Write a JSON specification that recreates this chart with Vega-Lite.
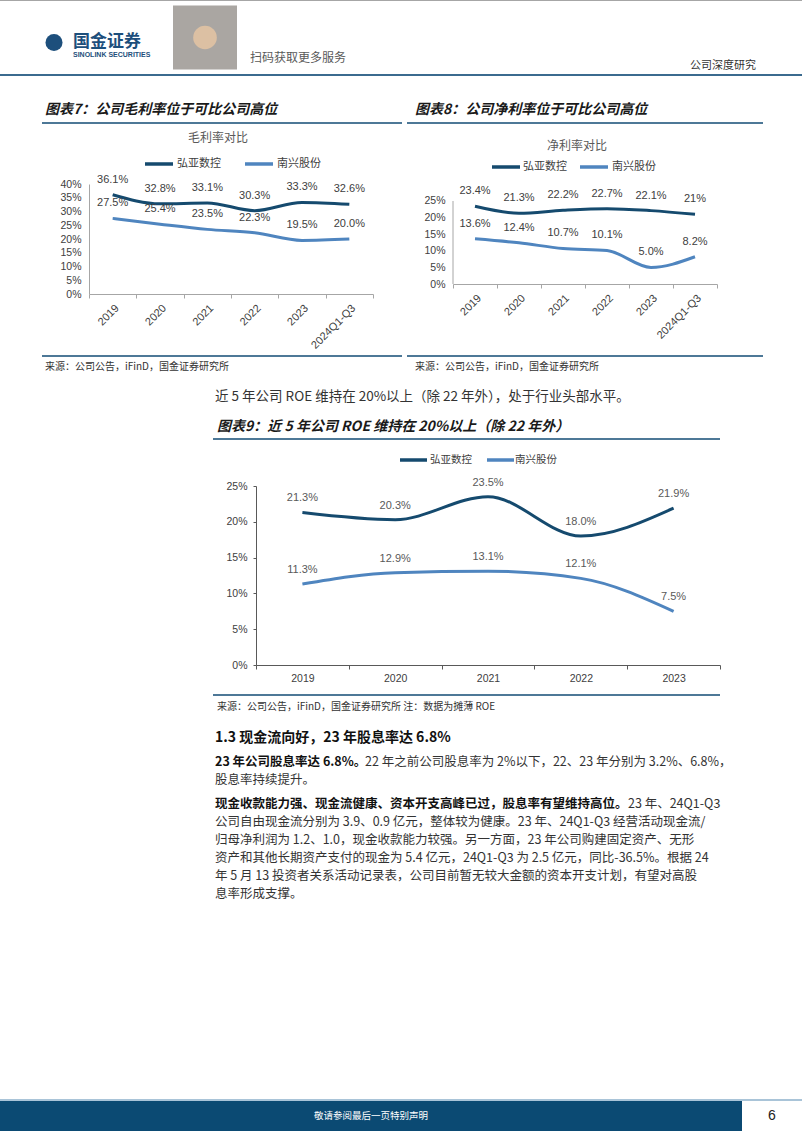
{
"$schema":"https://vega.github.io/schema/vega-lite/v6.json",
"background":"#ffffff",
"padding":0,
"spacing":0,
"config":{"view":{"stroke":null},"concat":{"spacing":0},"font":"Noto Sans CJK SC"},
"datasets":{
"gm":[
{"yr":"2019","co":"弘亚数控","v":36.1,"lab":"36.1%"},
{"yr":"2020","co":"弘亚数控","v":32.8,"lab":"32.8%"},
{"yr":"2021","co":"弘亚数控","v":33.1,"lab":"33.1%"},
{"yr":"2022","co":"弘亚数控","v":30.3,"lab":"30.3%"},
{"yr":"2023","co":"弘亚数控","v":33.3,"lab":"33.3%"},
{"yr":"2024Q1-Q3","co":"弘亚数控","v":32.6,"lab":"32.6%"},
{"yr":"2019","co":"南兴股份","v":27.5,"lab":"27.5%"},
{"yr":"2020","co":"南兴股份","v":25.4,"lab":"25.4%"},
{"yr":"2021","co":"南兴股份","v":23.5,"lab":"23.5%"},
{"yr":"2022","co":"南兴股份","v":22.3,"lab":"22.3%"},
{"yr":"2023","co":"南兴股份","v":19.5,"lab":"19.5%"},
{"yr":"2024Q1-Q3","co":"南兴股份","v":20.0,"lab":"20.0%"}
],
"nm":[
{"yr":"2019","co":"弘亚数控","v":23.4,"lab":"23.4%"},
{"yr":"2020","co":"弘亚数控","v":21.3,"lab":"21.3%"},
{"yr":"2021","co":"弘亚数控","v":22.2,"lab":"22.2%"},
{"yr":"2022","co":"弘亚数控","v":22.7,"lab":"22.7%"},
{"yr":"2023","co":"弘亚数控","v":22.1,"lab":"22.1%"},
{"yr":"2024Q1-Q3","co":"弘亚数控","v":21.0,"lab":"21%"},
{"yr":"2019","co":"南兴股份","v":13.6,"lab":"13.6%"},
{"yr":"2020","co":"南兴股份","v":12.4,"lab":"12.4%"},
{"yr":"2021","co":"南兴股份","v":10.7,"lab":"10.7%"},
{"yr":"2022","co":"南兴股份","v":10.1,"lab":"10.1%"},
{"yr":"2023","co":"南兴股份","v":5.0,"lab":"5.0%"},
{"yr":"2024Q1-Q3","co":"南兴股份","v":8.2,"lab":"8.2%"}
],
"roe":[
{"yr":"2019","co":"弘亚数控","v":21.3,"lab":"21.3%"},
{"yr":"2020","co":"弘亚数控","v":20.3,"lab":"20.3%"},
{"yr":"2021","co":"弘亚数控","v":23.5,"lab":"23.5%"},
{"yr":"2022","co":"弘亚数控","v":18.0,"lab":"18.0%"},
{"yr":"2023","co":"弘亚数控","v":21.9,"lab":"21.9%"},
{"yr":"2019","co":"南兴股份","v":11.3,"lab":"11.3%"},
{"yr":"2020","co":"南兴股份","v":12.9,"lab":"12.9%"},
{"yr":"2021","co":"南兴股份","v":13.1,"lab":"13.1%"},
{"yr":"2022","co":"南兴股份","v":12.1,"lab":"12.1%"},
{"yr":"2023","co":"南兴股份","v":7.5,"lab":"7.5%"}
]
},
"vconcat":[
{"width":802,"height":1,"view":{"fill":"#a6a6a6","stroke":null},"data":{"values":[]},"mark":"point"},
{"hconcat":[
 {"width":45,"height":1,"data":{"values":[]},"mark":"point"},
 {"width":18,"height":73,"data":{"values":[{"k":"a"}]},"mark":{"type":"point","shape":"circle","filled":true,"size":290,"color":"#1d4f7c","opacity":1},"encoding":{"y":{"field":"k","type":"nominal","scale":{"type":"band","paddingInner":0,"paddingOuter":0},"axis":null,"bandPosition":0.568}}},
 {"width":10,"height":1,"data":{"values":[]},"mark":"point"},
 {"width":90,"height":73,"data":{"values":[{"k":"a","t1":"国金证券","t2":"SINOLINK SECURITIES"}]},"encoding":{"x":{"datum":0,"type":"quantitative","scale":{"domain":[0,1]},"axis":null}},"layer":[
  {"mark":{"type":"text","align":"left","baseline":"middle","fontSize":17,"fontWeight":"bold","color":"#1d4f7c"},"encoding":{"y":{"field":"k","type":"nominal","scale":{"type":"band","paddingInner":0,"paddingOuter":0},"axis":null,"bandPosition":0.555},"text":{"field":"t1"}}},
  {"mark":{"type":"text","align":"left","baseline":"middle","fontSize":7,"fontWeight":"bold","color":"#1d4f7c","font":"Liberation Sans"},"encoding":{"y":{"field":"k","type":"nominal","scale":{"type":"band","paddingInner":0,"paddingOuter":0},"axis":null,"bandPosition":0.733},"text":{"field":"t2"}}}
 ]},
 {"width":10,"height":1,"data":{"values":[]},"mark":"point"},
 {"width":64,"height":73,"data":{"values":[{"k":"a"}]},"encoding":{"y":{"field":"k","type":"nominal","scale":{"type":"band","paddingInner":0,"paddingOuter":0},"axis":null,"bandPosition":0.5}},"layer":[
  {"mark":{"type":"point","shape":"square","filled":true,"size":4096,"color":"#aaa6a2","opacity":1}},
  {"mark":{"type":"point","shape":"circle","filled":true,"size":560,"color":"#dcc0a3","opacity":1}}
 ]},
 {"width":13,"height":1,"data":{"values":[]},"mark":"point"},
 {"width":110,"height":73,"data":{"values":[{"k":"a","t":"扫码获取更多服务"}]},"mark":{"type":"text","align":"left","baseline":"middle","fontSize":12,"color":"#595959"},"encoding":{"x":{"datum":0,"type":"quantitative","scale":{"domain":[0,1]},"axis":null},"y":{"field":"k","type":"nominal","scale":{"type":"band","paddingInner":0,"paddingOuter":0},"axis":null,"bandPosition":0.781},"text":{"field":"t"}}},
 {"width":330,"height":1,"data":{"values":[]},"mark":"point"},
 {"width":112,"height":73,"data":{"values":[{"k":"a","t":"公司深度研究"}]},"mark":{"type":"text","align":"left","baseline":"middle","fontSize":11,"color":"#333333"},"encoding":{"x":{"datum":0,"type":"quantitative","scale":{"domain":[0,1]},"axis":null},"y":{"field":"k","type":"nominal","scale":{"type":"band","paddingInner":0,"paddingOuter":0},"axis":null,"bandPosition":0.89},"text":{"field":"t"}}}
],"spacing":0,"bounds":"flush"},
{"width":802,"height":2,"view":{"fill":"#3b6b8f","stroke":null},"data":{"values":[]},"mark":"point"},
{"width":1,"height":24,"data":{"values":[]},"mark":"point"},
{"hconcat":[
 {"width":45,"height":1,"data":{"values":[]},"mark":"point"},
 {"width":370,"height":20,"data":{"values":[{"t":"图表7：公司毛利率位于可比公司高位"}]},"mark":{"type":"text","align":"left","baseline":"middle","fontSize":14,"fontWeight":"bold","fontStyle":"italic","color":"#1a1a1a"},"encoding":{"x":{"datum":0,"type":"quantitative","scale":{"domain":[0,1]},"axis":null},"text":{"field":"t"}}},
 {"width":387,"height":20,"data":{"values":[{"t":"图表8：公司净利率位于可比公司高位"}]},"mark":{"type":"text","align":"left","baseline":"middle","fontSize":14,"fontWeight":"bold","fontStyle":"italic","color":"#1a1a1a"},"encoding":{"x":{"datum":0,"type":"quantitative","scale":{"domain":[0,1]},"axis":null},"text":{"field":"t"}}}
],"spacing":0,"bounds":"flush"},
{"width":1,"height":2,"data":{"values":[]},"mark":"point"},
{"hconcat":[
 {"width":42,"height":1,"data":{"values":[]},"mark":"point"},
 {"width":360,"height":2,"view":{"fill":"#4d7897","stroke":null},"data":{"values":[]},"mark":"point"},
 {"width":5,"height":1,"data":{"values":[]},"mark":"point"},
 {"width":356,"height":2,"view":{"fill":"#4d7897","stroke":null},"data":{"values":[]},"mark":"point"}
],"spacing":0,"bounds":"flush"},
{"hconcat":[
 {"width":188,"height":1,"data":{"values":[]},"mark":"point"},
 {"width":70,"height":32,"data":{"values":[{"k":"a","t":"毛利率对比"}]},"mark":{"type":"text","align":"left","baseline":"middle","fontSize":12,"color":"#595959"},"encoding":{"x":{"datum":0,"type":"quantitative","scale":{"domain":[0,1]},"axis":null},"y":{"field":"k","type":"nominal","scale":{"type":"band","paddingInner":0,"paddingOuter":0},"axis":null,"bandPosition":0.4375},"text":{"field":"t"}}},
 {"width":289,"height":1,"data":{"values":[]},"mark":"point"},
 {"width":70,"height":32,"data":{"values":[{"k":"a","t":"净利率对比"}]},"mark":{"type":"text","align":"left","baseline":"middle","fontSize":12,"color":"#595959"},"encoding":{"x":{"datum":0,"type":"quantitative","scale":{"domain":[0,1]},"axis":null},"y":{"field":"k","type":"nominal","scale":{"type":"band","paddingInner":0,"paddingOuter":0},"axis":null,"bandPosition":0.6875},"text":{"field":"t"}}}
],"spacing":0,"bounds":"flush"},
{"hconcat":[
 {"width":145,"height":1,"data":{"values":[]},"mark":"point"},
 {"width":28,"height":17,"data":{"values":[{"k":"a"}]},"mark":{"type":"rule","color":"#154a6e","strokeWidth":3.5},"encoding":{"x":{"datum":0,"type":"quantitative","scale":{"domain":[0,1]},"axis":null},"x2":{"datum":1},"y":{"field":"k","type":"nominal","scale":{"type":"band","paddingInner":0,"paddingOuter":0},"axis":null,"bandPosition":0.47}}},
 {"width":4,"height":1,"data":{"values":[]},"mark":"point"},
 {"width":45,"height":17,"data":{"values":[{"k":"a","t":"弘亚数控"}]},"mark":{"type":"text","align":"left","baseline":"middle","fontSize":11,"color":"#404040"},"encoding":{"x":{"datum":0,"type":"quantitative","scale":{"domain":[0,1]},"axis":null},"y":{"field":"k","type":"nominal","scale":{"type":"band","paddingInner":0,"paddingOuter":0},"axis":null,"bandPosition":0.47},"text":{"field":"t"}}},
 {"width":23,"height":1,"data":{"values":[]},"mark":"point"},
 {"width":28,"height":17,"data":{"values":[{"k":"a"}]},"mark":{"type":"rule","color":"#4f85bf","strokeWidth":3.5},"encoding":{"x":{"datum":0,"type":"quantitative","scale":{"domain":[0,1]},"axis":null},"x2":{"datum":1},"y":{"field":"k","type":"nominal","scale":{"type":"band","paddingInner":0,"paddingOuter":0},"axis":null,"bandPosition":0.47}}},
 {"width":4,"height":1,"data":{"values":[]},"mark":"point"},
 {"width":45,"height":17,"data":{"values":[{"k":"a","t":"南兴股份"}]},"mark":{"type":"text","align":"left","baseline":"middle","fontSize":11,"color":"#404040"},"encoding":{"x":{"datum":0,"type":"quantitative","scale":{"domain":[0,1]},"axis":null},"y":{"field":"k","type":"nominal","scale":{"type":"band","paddingInner":0,"paddingOuter":0},"axis":null,"bandPosition":0.47},"text":{"field":"t"}}},
 {"width":170,"height":1,"data":{"values":[]},"mark":"point"},
 {"width":28,"height":17,"data":{"values":[{"k":"a"}]},"mark":{"type":"rule","color":"#154a6e","strokeWidth":3.5},"encoding":{"x":{"datum":0,"type":"quantitative","scale":{"domain":[0,1]},"axis":null},"x2":{"datum":1},"y":{"field":"k","type":"nominal","scale":{"type":"band","paddingInner":0,"paddingOuter":0},"axis":null,"bandPosition":0.647}}},
 {"width":3,"height":1,"data":{"values":[]},"mark":"point"},
 {"width":45,"height":17,"data":{"values":[{"k":"a","t":"弘亚数控"}]},"mark":{"type":"text","align":"left","baseline":"middle","fontSize":11,"color":"#404040"},"encoding":{"x":{"datum":0,"type":"quantitative","scale":{"domain":[0,1]},"axis":null},"y":{"field":"k","type":"nominal","scale":{"type":"band","paddingInner":0,"paddingOuter":0},"axis":null,"bandPosition":0.647},"text":{"field":"t"}}},
 {"width":12,"height":1,"data":{"values":[]},"mark":"point"},
 {"width":28,"height":17,"data":{"values":[{"k":"a"}]},"mark":{"type":"rule","color":"#4f85bf","strokeWidth":3.5},"encoding":{"x":{"datum":0,"type":"quantitative","scale":{"domain":[0,1]},"axis":null},"x2":{"datum":1},"y":{"field":"k","type":"nominal","scale":{"type":"band","paddingInner":0,"paddingOuter":0},"axis":null,"bandPosition":0.647}}},
 {"width":4,"height":1,"data":{"values":[]},"mark":"point"},
 {"width":45,"height":17,"data":{"values":[{"k":"a","t":"南兴股份"}]},"mark":{"type":"text","align":"left","baseline":"middle","fontSize":11,"color":"#404040"},"encoding":{"x":{"datum":0,"type":"quantitative","scale":{"domain":[0,1]},"axis":null},"y":{"field":"k","type":"nominal","scale":{"type":"band","paddingInner":0,"paddingOuter":0},"axis":null,"bandPosition":0.647},"text":{"field":"t"}}}
],"spacing":0,"bounds":"flush"},
{"hconcat":[
 {"width":89,"height":1,"data":{"values":[]},"mark":"point"},
 {"width":284,"height":110,"data":{"name":"gm"},
  "encoding":{
   "x":{"field":"yr","type":"ordinal","sort":null,"bandPosition":0.5,"scale":{"type":"band","paddingInner":0,"paddingOuter":0},"axis":{"title":null,"labelAngle":-45,"tickBand":"extent","tickSize":4,"labelPadding":4,"labelFontSize":11,"labelColor":"#404040","labelFont":"Liberation Sans","domainColor":"#a6a6a6","tickColor":"#a6a6a6","labelOverlap":false}},
   "y":{"field":"v","type":"quantitative","scale":{"domain":[0,40],"nice":false},"axis":{"title":null,"values":[0,5,10,15,20,25,30,35,40],"labelExpr":"datum.value + '%'","grid":false,"ticks":false,"labelPadding":8,"labelFontSize":10.5,"labelColor":"#404040","labelFont":"Liberation Sans","domainColor":"#a6a6a6"}}
  },
  "layer":[
   {"mark":{"type":"line","strokeWidth":3,"interpolate":"monotone"},"encoding":{"color":{"field":"co","type":"nominal","scale":{"domain":["弘亚数控","南兴股份"],"range":["#154a6e","#4f85bf"]},"legend":null}}},
   {"mark":{"type":"text","dy":-15,"fontSize":11,"font":"Liberation Sans","color":"#404040"},"encoding":{"text":{"field":"lab"}}}
  ]},
 {"width":80,"height":1,"data":{"values":[]},"mark":"point"},
 {"width":264,"height":100,"data":{"name":"nm"},
  "encoding":{
   "x":{"field":"yr","type":"ordinal","sort":null,"bandPosition":0.5,"scale":{"type":"band","paddingInner":0,"paddingOuter":0},"axis":{"title":null,"labelAngle":-45,"tickBand":"extent","tickSize":4,"labelPadding":4,"labelFontSize":11,"labelColor":"#404040","labelFont":"Liberation Sans","domainColor":"#a6a6a6","tickColor":"#a6a6a6","labelOverlap":false}},
   "y":{"field":"v","type":"quantitative","scale":{"domain":[0,30.12],"nice":false},"axis":{"title":null,"values":[0,5,10,15,20,25],"labelExpr":"datum.value + '%'","grid":false,"ticks":false,"domain":false,"labelPadding":8,"labelFontSize":10.5,"labelColor":"#404040","labelFont":"Liberation Sans"}}
  },
  "layer":[
   {"transform":[{"filter":"datum.yr == '2019' && datum.co == '弘亚数控'"}],"mark":{"type":"rule","color":"#a6a6a6","strokeWidth":1},"encoding":{"x":{"field":"yr","type":"ordinal","sort":null,"bandPosition":0},"y":{"datum":0},"y2":{"datum":25}}},
   {"mark":{"type":"line","strokeWidth":3,"interpolate":"monotone"},"encoding":{"color":{"field":"co","type":"nominal","scale":{"domain":["弘亚数控","南兴股份"],"range":["#154a6e","#4f85bf"]},"legend":null}}},
   {"mark":{"type":"text","dy":-15,"fontSize":11,"font":"Liberation Sans","color":"#404040"},"encoding":{"text":{"field":"lab"}}}
  ]}
],"spacing":0,"bounds":"flush"},
{"width":1,"height":4,"data":{"values":[]},"mark":"point"},
{"hconcat":[
 {"width":42,"height":1,"data":{"values":[]},"mark":"point"},
 {"width":360,"height":2,"view":{"fill":"#4d7897","stroke":null},"data":{"values":[]},"mark":"point"},
 {"width":5,"height":1,"data":{"values":[]},"mark":"point"},
 {"width":356,"height":2,"view":{"fill":"#4d7897","stroke":null},"data":{"values":[]},"mark":"point"}
],"spacing":0,"bounds":"flush"},
{"width":1,"height":3,"data":{"values":[]},"mark":"point"},
{"hconcat":[
 {"width":45,"height":1,"data":{"values":[]},"mark":"point"},
 {"width":370,"height":14,"data":{"values":[{"t":"来源：公司公告，iFinD，国金证券研究所"}]},"mark":{"type":"text","align":"left","baseline":"middle","fontSize":10,"color":"#333333"},"encoding":{"x":{"datum":0,"type":"quantitative","scale":{"domain":[0,1]},"axis":null},"text":{"field":"t"}}},
 {"width":387,"height":14,"data":{"values":[{"t":"来源：公司公告，iFinD，国金证券研究所"}]},"mark":{"type":"text","align":"left","baseline":"middle","fontSize":10,"color":"#333333"},"encoding":{"x":{"datum":0,"type":"quantitative","scale":{"domain":[0,1]},"axis":null},"text":{"field":"t"}}}
],"spacing":0,"bounds":"flush"},
{"width":1,"height":13,"data":{"values":[]},"mark":"point"},
{"hconcat":[
 {"width":215,"height":1,"data":{"values":[]},"mark":"point"},
 {"width":560,"height":20,"data":{"values":[{"t":"近 5 年公司 ROE 维持在 20%以上（除 22 年外），处于行业头部水平。"}]},"mark":{"type":"text","align":"left","baseline":"middle","fontSize":13.5,"color":"#333333"},"encoding":{"x":{"datum":0,"type":"quantitative","scale":{"domain":[0,1]},"axis":null},"text":{"field":"t"}}}
],"spacing":0,"bounds":"flush"},
{"width":1,"height":10,"data":{"values":[]},"mark":"point"},
{"hconcat":[
 {"width":217,"height":1,"data":{"values":[]},"mark":"point"},
 {"width":500,"height":20,"data":{"values":[{"t":"图表9：近 5 年公司 ROE 维持在 20%以上（除 22 年外）"}]},"mark":{"type":"text","align":"left","baseline":"middle","fontSize":14,"fontWeight":"bold","fontStyle":"italic","color":"#1a1a1a"},"encoding":{"x":{"datum":0,"type":"quantitative","scale":{"domain":[0,1]},"axis":null},"text":{"field":"t"}}}
],"spacing":0,"bounds":"flush"},
{"width":1,"height":1,"data":{"values":[]},"mark":"point"},
{"hconcat":[
 {"width":213,"height":1,"data":{"values":[]},"mark":"point"},
 {"width":507,"height":2,"view":{"fill":"#4d7897","stroke":null},"data":{"values":[]},"mark":"point"}
],"spacing":0,"bounds":"flush"},
{"width":1,"height":10,"data":{"values":[]},"mark":"point"},
{"hconcat":[
 {"width":400,"height":1,"data":{"values":[]},"mark":"point"},
 {"width":27,"height":20,"data":{"values":[{"k":"a"}]},"mark":{"type":"rule","color":"#154a6e","strokeWidth":3.5},"encoding":{"x":{"datum":0,"type":"quantitative","scale":{"domain":[0,1]},"axis":null},"x2":{"datum":1}}},
 {"width":3,"height":1,"data":{"values":[]},"mark":"point"},
 {"width":42,"height":20,"data":{"values":[{"t":"弘亚数控"}]},"mark":{"type":"text","align":"left","baseline":"middle","fontSize":10.5,"color":"#404040"},"encoding":{"x":{"datum":0,"type":"quantitative","scale":{"domain":[0,1]},"axis":null},"text":{"field":"t"}}},
 {"width":15,"height":1,"data":{"values":[]},"mark":"point"},
 {"width":27,"height":20,"data":{"values":[{"k":"a"}]},"mark":{"type":"rule","color":"#4f85bf","strokeWidth":3.5},"encoding":{"x":{"datum":0,"type":"quantitative","scale":{"domain":[0,1]},"axis":null},"x2":{"datum":1}}},
 {"width":1,"height":1,"data":{"values":[]},"mark":"point"},
 {"width":45,"height":20,"data":{"values":[{"t":"南兴股份"}]},"mark":{"type":"text","align":"left","baseline":"middle","fontSize":10.5,"color":"#404040"},"encoding":{"x":{"datum":0,"type":"quantitative","scale":{"domain":[0,1]},"axis":null},"text":{"field":"t"}}}
],"spacing":0,"bounds":"flush"},
{"width":1,"height":6,"data":{"values":[]},"mark":"point"},
{"hconcat":[
 {"width":256,"height":1,"data":{"values":[]},"mark":"point"},
 {"width":464,"height":179,"data":{"name":"roe"},
  "encoding":{
   "x":{"field":"yr","type":"ordinal","sort":null,"bandPosition":0.5,"scale":{"type":"band","paddingInner":0,"paddingOuter":0},"axis":{"title":null,"labelAngle":0,"tickBand":"extent","tickSize":4,"labelPadding":4,"labelFontSize":10.5,"labelColor":"#404040","labelFont":"Liberation Sans","domainColor":"#595959","tickColor":"#595959","labelOverlap":false}},
   "y":{"field":"v","type":"quantitative","scale":{"domain":[0,25],"nice":false},"axis":{"title":null,"values":[0,5,10,15,20,25],"labelExpr":"datum.value + '%'","grid":false,"ticks":true,"tickSize":3,"tickColor":"#595959","labelPadding":6,"labelFontSize":10.5,"labelColor":"#404040","labelFont":"Liberation Sans","domainColor":"#595959"}}
  },
  "layer":[
   {"mark":{"type":"line","strokeWidth":3,"interpolate":"monotone"},"encoding":{"color":{"field":"co","type":"nominal","scale":{"domain":["弘亚数控","南兴股份"],"range":["#154a6e","#4f85bf"]},"legend":null}}},
   {"mark":{"type":"text","dy":-14,"fontSize":11,"font":"Liberation Sans","color":"#595959"},"encoding":{"text":{"field":"lab"}}}
  ]}
],"spacing":0,"bounds":"flush"},
{"width":1,"height":10,"data":{"values":[]},"mark":"point"},
{"hconcat":[
 {"width":213,"height":1,"data":{"values":[]},"mark":"point"},
 {"width":507,"height":2,"view":{"fill":"#4d7897","stroke":null},"data":{"values":[]},"mark":"point"}
],"spacing":0,"bounds":"flush"},
{"width":1,"height":4,"data":{"values":[]},"mark":"point"},
{"hconcat":[
 {"width":217,"height":1,"data":{"values":[]},"mark":"point"},
 {"width":520,"height":14,"data":{"values":[{"t":"来源：公司公告，iFinD，国金证券研究所 注：数据为摊薄 ROE"}]},"mark":{"type":"text","align":"left","baseline":"middle","fontSize":10,"color":"#333333"},"encoding":{"x":{"datum":0,"type":"quantitative","scale":{"domain":[0,1]},"axis":null},"text":{"field":"t"}}}
],"spacing":0,"bounds":"flush"},
{"width":1,"height":14,"data":{"values":[]},"mark":"point"},
{"hconcat":[
 {"width":215,"height":1,"data":{"values":[]},"mark":"point"},
 {"width":560,"height":20,"data":{"values":[{"t":"1.3 现金流向好，23 年股息率达 6.8%"}]},"mark":{"type":"text","align":"left","baseline":"middle","fontSize":14,"fontWeight":"bold","color":"#111111"},"encoding":{"x":{"datum":0,"type":"quantitative","scale":{"domain":[0,1]},"axis":null},"text":{"field":"t"}}}
],"spacing":0,"bounds":"flush"},
{"width":1,"height":5,"data":{"values":[]},"mark":"point"},
{"hconcat":[
 {"width":215,"height":1,"data":{"values":[]},"mark":"point"},
 {"width":560,"height":36,
  "data":{"values":[
   {"line":1,"lead":"23 年公司股息率达 6.8%。","rest":"22 年之前公司股息率为 2%以下，22、23 年分别为 3.2%、6.8%，"},
   {"line":2,"lead":"","rest":"股息率持续提升。"}
  ]},
  "encoding":{"x":{"datum":0,"type":"quantitative","scale":{"domain":[0,1]},"axis":null},"y":{"field":"line","type":"ordinal","scale":{"type":"band","paddingInner":0,"paddingOuter":0},"axis":null,"bandPosition":0.5}},
  "layer":[
   {"transform":[{"filter":"datum.lead != ''"}],"mark":{"type":"text","align":"left","baseline":"middle","fontSize":12.5,"fontWeight":"bold","color":"#111111"},"encoding":{"text":{"field":"lead"}}},
   {"transform":[{"filter":"datum.lead != ''"}],"mark":{"type":"text","align":"left","baseline":"middle","fontSize":12.5,"color":"#333333","dx":150},"encoding":{"text":{"field":"rest"}}},
   {"transform":[{"filter":"datum.lead == ''"}],"mark":{"type":"text","align":"left","baseline":"middle","fontSize":12.5,"color":"#333333"},"encoding":{"text":{"field":"rest"}}}
  ]}
],"spacing":0,"bounds":"flush"},
{"width":1,"height":6,"data":{"values":[]},"mark":"point"},
{"hconcat":[
 {"width":215,"height":1,"data":{"values":[]},"mark":"point"},
 {"width":560,"height":108,
  "data":{"values":[
   {"line":1,"lead":"现金收款能力强、现金流健康、资本开支高峰已过，股息率有望维持高位。","rest":"23 年、24Q1-Q3"},
   {"line":2,"lead":"","rest":"公司自由现金流分别为 3.9、0.9 亿元，整体较为健康。23 年、24Q1-Q3 经营活动现金流/"},
   {"line":3,"lead":"","rest":"归母净利润为 1.2、1.0，现金收款能力较强。另一方面，23 年公司购建固定资产、无形"},
   {"line":4,"lead":"","rest":"资产和其他长期资产支付的现金为 5.4 亿元，24Q1-Q3 为 2.5 亿元，同比-36.5%。根据 24"},
   {"line":5,"lead":"","rest":"年 5 月 13 投资者关系活动记录表，公司目前暂无较大金额的资本开支计划，有望对高股"},
   {"line":6,"lead":"","rest":"息率形成支撑。"}
  ]},
  "encoding":{"x":{"datum":0,"type":"quantitative","scale":{"domain":[0,1]},"axis":null},"y":{"field":"line","type":"ordinal","scale":{"type":"band","paddingInner":0,"paddingOuter":0},"axis":null,"bandPosition":0.5}},
  "layer":[
   {"transform":[{"filter":"datum.lead != ''"}],"mark":{"type":"text","align":"left","baseline":"middle","fontSize":12.5,"fontWeight":"bold","color":"#111111"},"encoding":{"text":{"field":"lead"}}},
   {"transform":[{"filter":"datum.lead != ''"}],"mark":{"type":"text","align":"left","baseline":"middle","fontSize":12.5,"color":"#333333","dx":413},"encoding":{"text":{"field":"rest"}}},
   {"transform":[{"filter":"datum.lead == ''"}],"mark":{"type":"text","align":"left","baseline":"middle","fontSize":12.5,"color":"#333333"},"encoding":{"text":{"field":"rest"}}}
  ]}
],"spacing":0,"bounds":"flush"},
{"width":1,"height":196,"data":{"values":[]},"mark":"point"},
{"width":802,"height":2,"view":{"fill":"#a9c4d8","stroke":null},"data":{"values":[]},"mark":"point"},
{"hconcat":[
 {"width":742,"height":30,"view":{"fill":"#0b4a73","stroke":null},"data":{"values":[{"t":"敬请参阅最后一页特别声明"}]},"mark":{"type":"text","align":"center","baseline":"middle","fontSize":9.5,"color":"#ffffff"},"encoding":{"text":{"field":"t"}}},
 {"width":60,"height":30,"data":{"values":[{"t":"6"}]},"mark":{"type":"text","align":"center","baseline":"middle","fontSize":14,"color":"#222222","font":"Liberation Sans"},"encoding":{"text":{"field":"t"}}}
],"spacing":0,"bounds":"flush"},
{"width":1,"height":2,"data":{"values":[]},"mark":"point"},
{"width":802,"height":1,"view":{"fill":"#a6a6a6","stroke":null},"data":{"values":[]},"mark":"point"},
{"width":1,"height":1,"data":{"values":[]},"mark":"point"}
]
}
